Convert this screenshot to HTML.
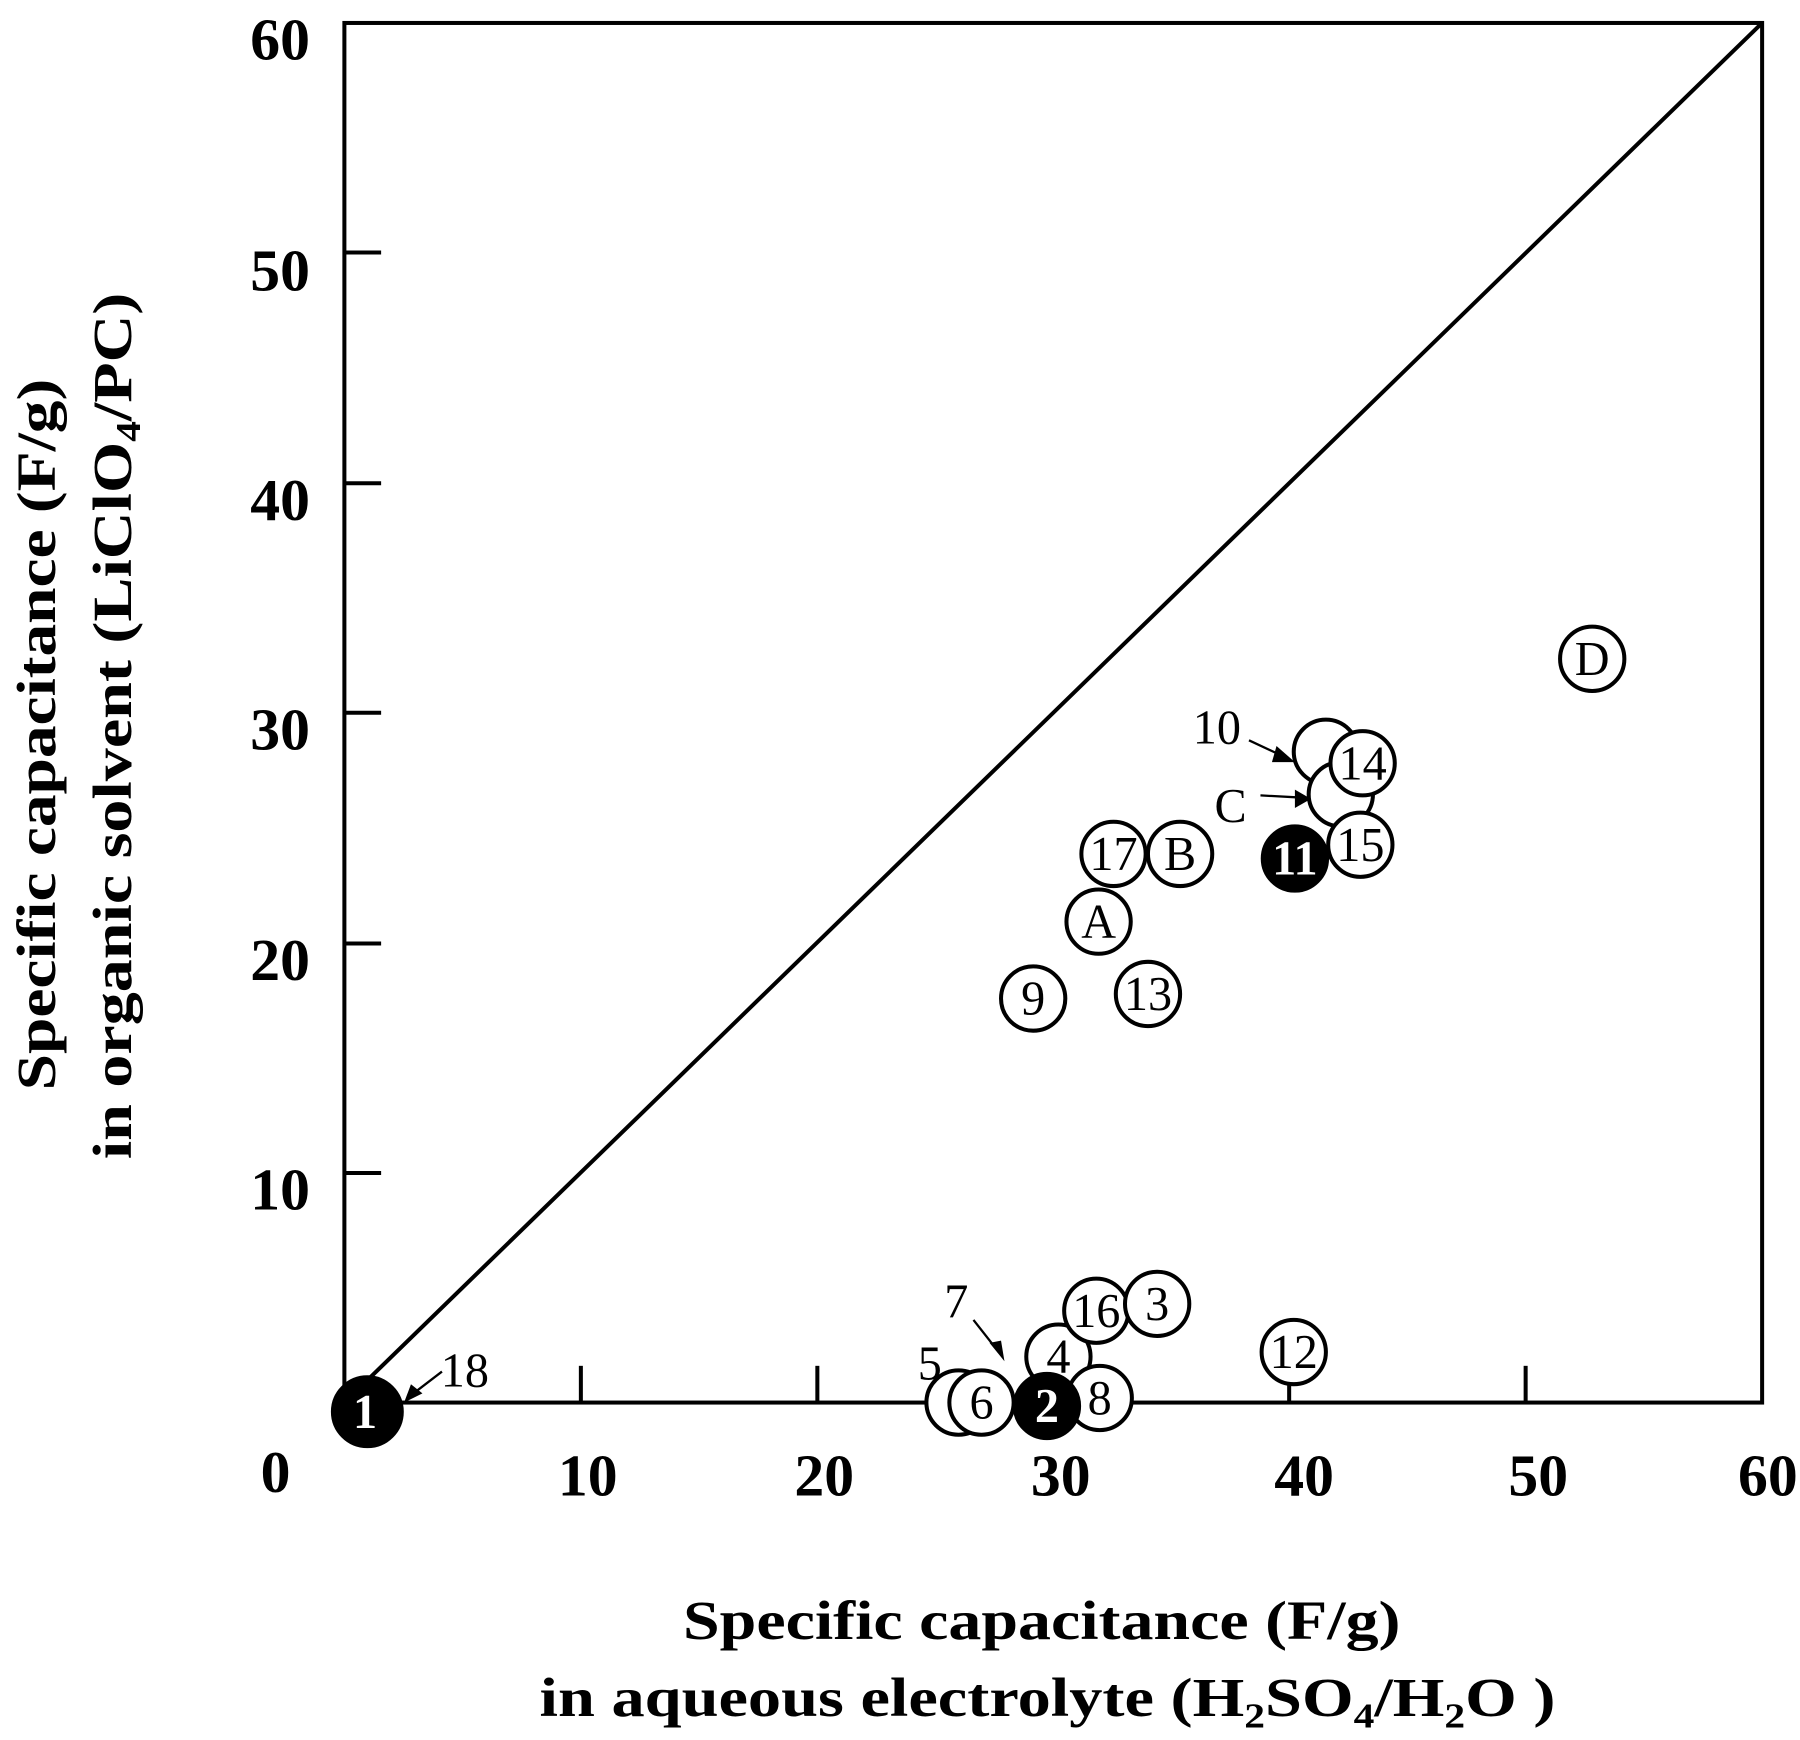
<!DOCTYPE html>
<html><head><style>html,body{margin:0;padding:0;background:#fff}svg{display:block}</style></head>
<body>
<svg width="1800" height="1740" viewBox="0 0 1568 1516" preserveAspectRatio="none" xmlns="http://www.w3.org/2000/svg" font-family="Liberation Serif, serif">
<rect width="1568" height="1516" fill="#fff"/>
<rect x="300" y="20" width="1235" height="1202" fill="none" stroke="#000" stroke-width="3.5"/>
<line x1="300" y1="1222" x2="1535" y2="20" stroke="#000" stroke-width="3.5"/>
<g stroke="#000" stroke-width="3.5">
<line x1="506" y1="1222" x2="506" y2="1190"/><line x1="712" y1="1222" x2="712" y2="1190"/><line x1="918" y1="1222" x2="918" y2="1190"/><line x1="1123" y1="1222" x2="1123" y2="1190"/><line x1="1329" y1="1222" x2="1329" y2="1190"/>
<line x1="300" y1="1022" x2="332" y2="1022"/><line x1="300" y1="822" x2="332" y2="822"/><line x1="300" y1="621" x2="332" y2="621"/><line x1="300" y1="421" x2="332" y2="421"/><line x1="300" y1="220" x2="332" y2="220"/>
</g>
<g font-size="52" font-weight="bold" text-anchor="end">
<text x="270" y="52">60</text><text x="270" y="253">50</text><text x="270" y="453">40</text><text x="270" y="653">30</text><text x="270" y="854">20</text><text x="270" y="1054">10</text>
</g>
<g font-size="52" font-weight="bold" text-anchor="middle">
<text x="240" y="1300">0</text><text x="512" y="1303">10</text><text x="718" y="1303">20</text><text x="924" y="1303">30</text><text x="1136" y="1303">40</text><text x="1340" y="1303">50</text><text x="1540" y="1303">60</text>
</g>
<g font-size="48" font-weight="bold">
<text x="595" y="1428" textLength="625" lengthAdjust="spacingAndGlyphs">Specific capacitance (F/g)</text>
<text x="470" y="1495" textLength="885" lengthAdjust="spacingAndGlyphs">in aqueous electrolyte (H<tspan font-size="30" dy="10">2</tspan><tspan dy="-10">SO</tspan><tspan font-size="30" dy="10">4</tspan><tspan dy="-10">/H</tspan><tspan font-size="30" dy="10">2</tspan><tspan dy="-10">O )</tspan></text>
<text transform="translate(48,950) rotate(-90)" textLength="620" lengthAdjust="spacingAndGlyphs">Specific capacitance (F/g)</text>
<text transform="translate(114,1010) rotate(-90)" textLength="755" lengthAdjust="spacingAndGlyphs">in organic solvent (LiClO<tspan font-size="30" dy="8">4</tspan><tspan dy="-8">/PC)</tspan></text>
</g>
<g fill="#fff" stroke="#000" stroke-width="3.5">
<circle cx="1155" cy="655" r="28"/><circle cx="1168" cy="692" r="28"/>
<circle cx="835" cy="1222" r="28"/><circle cx="922" cy="1182" r="28"/>
</g>
<g stroke="#000" stroke-width="3.5">
<g fill="#fff"><circle cx="855" cy="1222" r="28"/><circle cx="958" cy="1218" r="28"/><circle cx="955" cy="1142" r="28"/><circle cx="1008" cy="1136" r="28"/><circle cx="1127" cy="1178" r="28"/><circle cx="900" cy="870" r="28"/><circle cx="1000" cy="866" r="28"/><circle cx="957" cy="803" r="28"/><circle cx="970" cy="744" r="28"/><circle cx="1028" cy="744" r="28"/><circle cx="1185" cy="736" r="28"/><circle cx="1187" cy="665" r="28"/><circle cx="1387" cy="574" r="28"/></g>
<g fill="#000"><circle cx="320" cy="1230" r="30"/><circle cx="912" cy="1225" r="28"/><circle cx="1128" cy="748" r="28"/></g>
</g>
<g font-size="42" text-anchor="middle" fill="#000">
<text x="855" y="1236">6</text><text x="958" y="1232">8</text><text x="955" y="1156">16</text><text x="1008" y="1150">3</text><text x="1127" y="1192">12</text><text x="900" y="884">9</text><text x="1000" y="880">13</text><text x="957" y="817">A</text><text x="970" y="758">17</text><text x="1028" y="758">B</text><text x="1185" y="750">15</text><text x="1187" y="679">14</text><text x="1387" y="588">D</text><text x="922" y="1196">4</text>
<text x="1060" y="648">10</text><text x="1072" y="716">C</text><text x="833" y="1148">7</text><text x="810" y="1202">5</text><text x="405" y="1208">18</text>
</g>
<g font-size="42" font-weight="bold" text-anchor="middle" fill="#fff">
<text x="318" y="1244">1</text><text x="912" y="1239">2</text><text x="1128" y="762">11</text>
</g>
<g stroke="#000" stroke-width="2" fill="none"><line x1="1088" y1="645" x2="1120" y2="660"/><line x1="1098" y1="693" x2="1135" y2="695"/><line x1="848" y1="1150" x2="870" y2="1178"/><line x1="385" y1="1195" x2="355" y2="1218"/></g>
<g fill="#000"><polygon points="1128,664 1112,650 1108,664"/><polygon points="1142,696 1128,688 1128,704"/><polygon points="875,1186 862,1170 872,1168"/><polygon points="352,1222 358,1206 368,1214"/></g>
</svg>
</body></html>
